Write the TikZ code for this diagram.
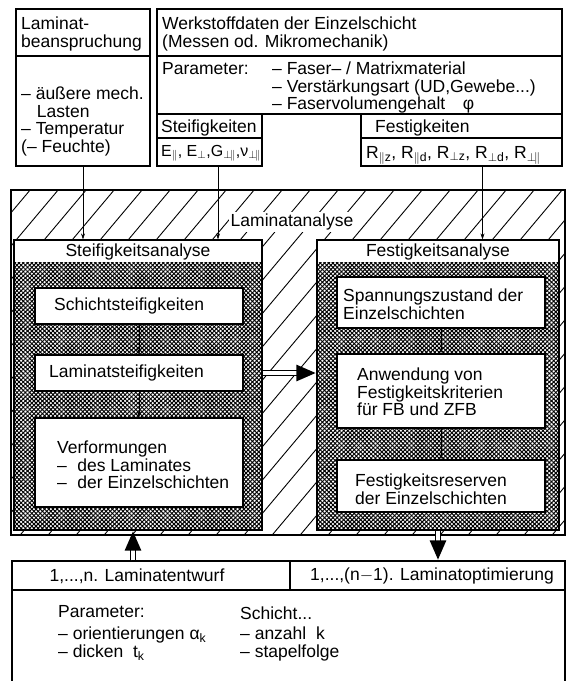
\documentclass[tikz,border=0pt]{standalone}
\usepackage{fontspec}
\setmainfont{Liberation Sans}
\usetikzlibrary{arrows.meta,fit,patterns.meta,decorations.markings}
\newcommand\boxfont{\fontsize{17.5}{17.5}\selectfont}
\tikzset{
  frame/.style={draw,line width=1.1pt,inner sep=0pt,fill=white},
  txt/.style={font=\boxfont,align=left,anchor=north west,inner sep=0pt},
  ctr/.style={font=\boxfont,inner sep=0pt},
  feed/.style={-{Stealth[length=6pt,width=4pt]},line width=0.6pt},
  flow/.style={double,double distance=4pt,line width=1.1pt,shorten >=15pt,
    postaction={decorate,decoration={markings,
      mark=at position 1 with {\arrow{Triangle[length=20pt,width=15pt]}}}}},
  anabox/.style={frame,path picture={
    \foreach \a in {45,-45}
      \path[pattern={Lines[angle=\a,distance=3pt,line width=1pt]}]
        (path picture bounding box.south west) rectangle ([yshift=-22pt]path picture bounding box.north east);
  }}
}
\begin{document}
\begin{tikzpicture}[x=1pt,y=-1pt]
\useasboundingbox (0,0) rectangle (570,681);
\node[frame,fit={(16,9) (150,166)}] (load) {};
\draw[line width=1.1pt] (16,56) -- (150,56);
\node[txt] (loadtitle) at (21,17) {Laminat-\\beanspruchung};
\node[txt] (loadlist) at (21,87) {-- äußere mech.\\\hspace{0.9em}Lasten\\-- Temperatur\\(-- Feuchte)};
\node[frame,fit={(157,9) (562,114)}] (mat) {};
\draw[line width=1.1pt] (157,56) -- (562,56);
\node[txt] (mattitle) at (162,17) {Werkstoffdaten der Einzelschicht\\(Messen od. Mikromechanik)};
\node[txt] (matpar) at (162,62) {Parameter:};
\node[txt] (matlist) at (272,62) {-- Faser-- / Matrixmaterial\\-- Verstärkungsart (UD,Gewebe...)\\-- Faservolumengehalt\quad φ};
\node[frame,fit={(157,114) (262,166)}] (stiff) {};
\draw[line width=1.1pt] (157,138) -- (262,138);
\node[txt] (stifftitle) at (161,120) {Steifigkeiten};
\node[txt,font=\fontsize{16}{17}\selectfont] (stiffvals) at (161,145) {E\textsubscript{$\parallel$}, E\textsubscript{$\perp$},G\textsubscript{$\perp\!\parallel$},ν\textsubscript{$\perp\!\parallel$}};
\node[frame,fit={(361,114) (562,166)}] (strength) {};
\draw[line width=1.1pt] (361,138) -- (562,138);
\node[txt] (strengthtitle) at (375,120) {Festigkeiten};
\node[txt] (strengthvals) at (366,146) {R\textsubscript{$\parallel$z}, R\textsubscript{$\parallel$d}, R\textsubscript{$\perp$z}, R\textsubscript{$\perp$d}, R\textsubscript{$\perp\!\parallel$}};
\node[frame,fit={(11,190) (565,535)}] (ana) {};
\begin{scope}
\clip (ana.south west) rectangle (ana.north east);
\foreach \x in {-320,-292,...,580}
  \draw[line width=0.9pt] (\x,540) -- +(300,-357);
\end{scope}
\node[ctr,fill=white,inner sep=1.5pt] (anatitle) at (292,222) {Laminatanalyse};
\node[anabox,fit={(14,240) (262,530)}] (steifana) {};
\node[anabox,fit={(317,240) (559,530)}] (festana) {};
\node[ctr,anchor=north] (steiftitle) at ([yshift=-4pt]steifana.north) {Steifigkeitsanalyse};
\node[ctr,anchor=north] (festtitle) at ([yshift=-4pt]festana.north) {Festigkeitsanalyse};
\node[frame,fit={(35,288) (243,324)}] (schicht) {};
\node[txt,anchor=west] (schichttxt) at (54,306) {Schichtsteifigkeiten};
\node[frame,fit={(35,355) (243,391)}] (lamstiff) {};
\node[txt,anchor=west] (lamstifftxt) at (49,373) {Laminatsteifigkeiten};
\node[frame,fit={(35,418) (243,507)}] (deform) {};
\node[txt] (deformtxt) at (57,441) {Verformungen\\--\hspace{0.6em}des Laminates\\--\hspace{0.6em}der Einzelschichten};
\node[frame,fit={(337,277) (545,328)}] (stress) {};
\node[txt] (stresstxt) at (343,289) {Spannungszustand der\\Einzelschichten};
\node[frame,fit={(337,354) (545,428)}] (crit) {};
\node[txt] (crittxt) at (357,368) {Anwendung von\\Festigkeitskriterien\\für FB und ZFB};
\node[frame,fit={(337,460) (545,512)}] (reserve) {};
\node[txt] (reservetxt) at (355,474) {Festigkeitsreserven\\der Einzelschichten};
\node[frame,fit={(12,561) (565,700)}] (design) {};
\draw[line width=1.1pt] (12,590) -- (565,590);
\draw[line width=1.1pt] (290,561) -- (290,590);
\node[ctr] (designtitle) at (137,576) {1,...,n. Laminatentwurf};
\node[ctr] (opttitle) at (432,576) {1,...,(n$-$1). Laminatoptimierung};
\node[txt] (designpar) at (58,605) {Parameter:};
\node[txt] (designlist) at (58,627) {-- orientierungen α\textsubscript{k}\\-- dicken\ \ t\textsubscript{k}};
\node[txt] (layerpar) at (240,607) {Schicht...};
\node[txt] (layerlist) at (240,627) {-- anzahl\ \ k\\-- stapelfolge};
\draw[feed] (load.south) -- (load.south |- steifana.north);
\draw[feed] ([xshift=8.5pt]stiff.south) -- ([xshift=8.5pt]stiff.south |- steifana.north);
\draw[feed] ([xshift=21pt]strength.south) -- ([xshift=21pt]strength.south |- festana.north);
\draw[feed] (schicht) -- (lamstiff);
\draw[feed] (lamstiff) -- (deform);
\draw[feed] (stress) -- (crit);
\draw[feed] (crit) -- (reserve);
\draw[flow] (steifana.east |- lamstiff) -- (festana.west |- lamstiff);
\draw[flow] ([xshift=-5pt]steifana.south |- design.north) -- ([xshift=-5pt]steifana.south);
\draw[flow] (festana.south) -- (festana.south |- design.north);
\end{tikzpicture}
\end{document}
